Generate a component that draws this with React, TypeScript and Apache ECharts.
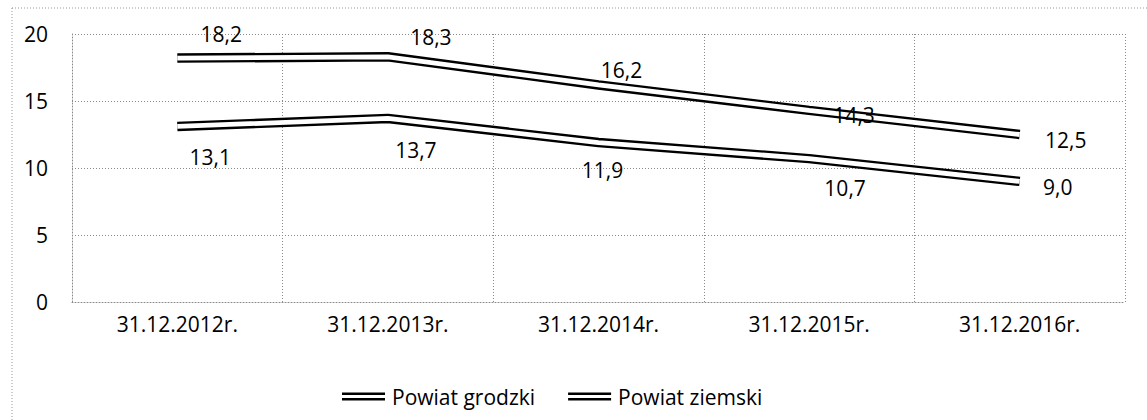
import React, { useEffect, useRef } from 'react';
import * as echarts from 'echarts';

const categories = ['31.12.2012r.', '31.12.2013r.', '31.12.2014r.', '31.12.2015r.', '31.12.2016r.'];
const powiatGrodzki = [13.1, 13.7, 11.9, 10.7, 9.0];
const powiatZiemski = [18.2, 18.3, 16.2, 14.3, 12.5];
const yMin = 0;
const yMax = 20;
const yStep = 5;

const grodzkiLabelOffsets = [[33, 31], [28, 32], [4, 27], [36, 29], [38, 6]];
const ziemskiLabelOffsets = [[44, -24], [43, -20], [23, -15], [45, 5], [46, 5]];

const FONT = "'Open Sans', 'Noto Sans', sans-serif";
const GRID_COLOR = '#8a8a8a';

const fmt = (v: number) => v.toFixed(1).replace('.', ',');

function labelled(values: number[], offsets: number[][]) {
  return values.map((v, i) => ({
    value: v,
    label: { offset: offsets[i] },
  }));
}

export default function App() {
  const ref = useRef<HTMLDivElement>(null);
  useEffect(() => {
    document.body.style.margin = '0';
    const chart = echarts.init(ref.current!, null, { renderer: 'svg' });
    const outer = (name: string, data: number[]) => ({
      name,
      type: 'line',
      data,
      symbol: 'none',
      z: 2,
      lineStyle: { color: '#000', width: 9.5 },
      itemStyle: { color: '#000' },
    });
    const inner = (name: string, values: number[], offsets: number[][]) => ({
      name,
      type: 'line',
      data: labelled(values, offsets),
      symbol: 'circle',
      symbolSize: 1,
      z: 3,
      lineStyle: { color: '#fff', width: 4.8 },
      itemStyle: { color: 'rgba(0,0,0,0)', borderWidth: 0 },
      label: {
        show: true,
        position: 'inside',
        formatter: (p: any) => fmt(p.value),
        color: '#000',
        fontSize: 21,
        fontFamily: FONT,
      },
    });
    chart.setOption({
      animation: false,
      backgroundColor: '#fff',
      graphic: [
        {
          type: 'rect',
          shape: { x: 12, y: 8, width: 1200, height: 500 },
          style: { fill: 'none', stroke: '#999', lineWidth: 1, lineDash: [1, 2] },
          silent: true,
        },
      ],
      grid: { left: 72, right: 22, top: 34, bottom: 118 },
      legend: {
        data: ['Powiat grodzki', 'Powiat ziemski'],
        left: 337,
        top: 381,
        itemWidth: 43,
        itemHeight: 8,
        itemGap: 33,
        icon: 'path://M0 0H43V2.5H0Z M0 5.5H43V8H0Z',
        textStyle: { fontSize: 21, fontFamily: FONT, color: '#000', padding: [0, 0, 0, 2] },
      },
      xAxis: {
        type: 'category',
        data: categories,
        boundaryGap: true,
        axisTick: { show: false },
        axisLine: { show: true, lineStyle: { color: GRID_COLOR, type: [1, 2] } },
        splitLine: { show: true, lineStyle: { color: GRID_COLOR, type: [1, 2] } },
        axisLabel: { color: '#000', fontSize: 21, fontFamily: FONT, margin: 11 },
      },
      yAxis: {
        type: 'value',
        min: yMin,
        max: yMax,
        interval: yStep,
        axisTick: { show: false },
        axisLine: { show: true, lineStyle: { color: GRID_COLOR, type: [1, 2] } },
        splitLine: { show: true, lineStyle: { color: GRID_COLOR, type: [1, 2] } },
        axisLabel: { color: '#000', fontSize: 21, fontFamily: FONT, margin: 24 },
      },
      series: [
        outer('Powiat grodzki', powiatGrodzki),
        outer('Powiat ziemski', powiatZiemski),
        inner('grodzki-inner', powiatGrodzki, grodzkiLabelOffsets),
        inner('ziemski-inner', powiatZiemski, ziemskiLabelOffsets),
      ],
    });
    return () => chart.dispose();
  }, []);
  return <div ref={ref} style={{ width: 1147, height: 420 }} />;
}
